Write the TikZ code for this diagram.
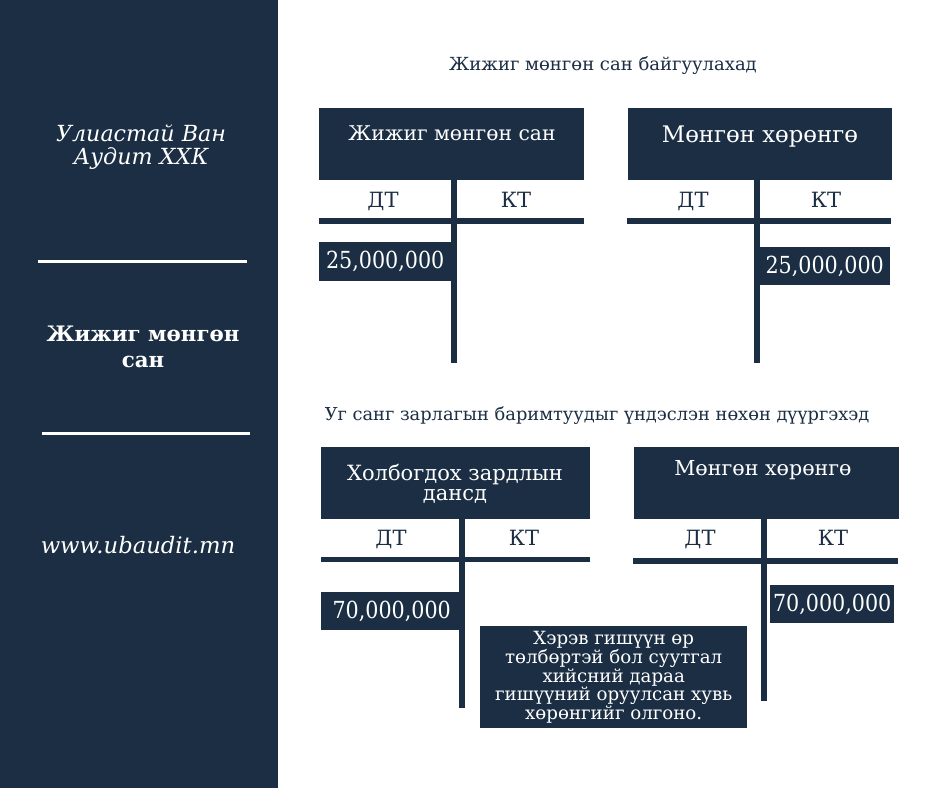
\documentclass[tikz,border=0pt]{standalone}
\usepackage{fontspec}
\setmainfont{DejaVu Serif}
\newfontfamily\numfont{DejaVu Serif}[FakeStretch=0.88]
\usetikzlibrary{positioning}
\definecolor{navy}{HTML}{1B2E44}

\tikzset{
  acchead/.style={fill=navy, minimum height=72pt, inner sep=0pt, anchor=north west},
  acctitle/.style={text=white, anchor=base, font=\fontsize{21}{20}\selectfont},
  side/.style={text=navy, anchor=base, font=\fontsize{21}{20}\selectfont},
  amount/.style={fill=navy, text=white, inner sep=0pt, anchor=north west, font=\fontsize{23.5}{23}\selectfont\numfont},
  lead/.style={text=navy, anchor=base, font=\fontsize{18}{18}\selectfont}
}

\begin{document}
\begin{tikzpicture}[x=1pt, y=-1pt, node distance=43pt]
    % background and side panel
    \fill[white] (0,0) rectangle (940,788);
    \fill[navy] (0,0) rectangle (278,788);

    \node (firm) [text=white, align=center, font=\fontsize{22.2}{23}\selectfont\itshape] at (141,147) {Улиастай Ван\\Аудит ХХК};
    \draw[white, line width=3pt] (38,261) -- (247,261);
    \node (topic) [text=white, align=center, font=\fontsize{21.3}{26}\selectfont\bfseries] at (143,347) {Жижиг мөнгөн\\сан};
    \draw[white, line width=3pt] (42,433) -- (250,433);
    \node (web) [text=white, anchor=base, font=\fontsize{22.7}{22}\selectfont\itshape] at (138,553) {www.ubaudit.mn};

    % first entry
    \node (leadA) [lead] at (603,70) {Жижиг мөнгөн сан байгуулахад};
    \node (fund) [acchead, minimum width=265pt] at (319,108) {};
    \node (cash) [acchead, minimum width=264pt, right=of fund] {};
    \fill[navy] ([xshift=132pt]fund.north west) rectangle ++(6,255);
    \fill[navy] ([yshift=-38pt]fund.south west) rectangle ++(265,6);
    \fill[navy] ([xshift=127pt]cash.north west) rectangle ++(6,255);
    \fill[navy] ([yshift=-38pt]cash.south west) rectangle ++(264,6);
    \node (fundtitle) [acctitle, font=\fontsize{20.3}{20}\selectfont] at (452,140) {Жижиг мөнгөн сан};
    \node (cashtitle) [acctitle, font=\fontsize{22.8}{20}\selectfont] at (760,142) {Мөнгөн хөрөнгө};
    \node (funddt) [side] at (383,207) {ДТ};
    \node (fundkt) [side] at (516,207) {КТ};
    \node (cashdt) [side] at (693,207) {ДТ};
    \node (cashkt) [side] at (826,207) {КТ};
    \node (fundamt) [amount, minimum width=132pt, minimum height=39pt] at (319,242) {25,000,000};
    \node (cashamt) [amount, minimum width=131pt, minimum height=38pt] at (759,247) {25,000,000};

    % second entry
    \node (leadB) [lead, font=\fontsize{17.8}{18}\selectfont] at (597,420) {Уг санг зарлагын баримтуудыг үндэслэн нөхөн дүүргэхэд};
    \node (exp) [acchead, minimum width=269pt] at (321,447) {};
    \node (cashb) [acchead, minimum width=265pt, right=of exp] {};
    \fill[navy] ([xshift=138pt]exp.north west) rectangle ++(6,261);
    \fill[navy] ([yshift=-38pt]exp.south west) rectangle ++(269,5);
    \fill[navy] ([xshift=128pt]cashb.north west) rectangle ++(6,254);
    \fill[navy] ([yshift=-39pt]cashb.south west) rectangle ++(265,6);
    \node (exptitle) [text=white, align=center, font=\fontsize{21}{20}\selectfont] at (455,484) {Холбогдох зардлын\\дансд};
    \node (cashbtitle) [acctitle, font=\fontsize{20.6}{20}\selectfont] at (763,475) {Мөнгөн хөрөнгө};
    \node (expdt) [side] at (391,545) {ДТ};
    \node (expkt) [side] at (524,545) {КТ};
    \node (cashbdt) [side] at (700,545) {ДТ};
    \node (cashbkt) [side] at (833,545) {КТ};
    \node (expamt) [amount, minimum width=141pt, minimum height=38pt] at (321,592) {70,000,000};
    \node (cashbamt) [amount, minimum width=124pt, minimum height=38pt] at (770,585) {70,000,000};
    \node (note) [amount, minimum width=267pt, minimum height=102pt, align=center, font=\fontsize{18.2}{17}\selectfont] at (480,626) {Хэрэв гишүүн өр\\төлбөртэй бол суутгал\\хийсний дараа\\гишүүний оруулсан хувь\\хөрөнгийг олгоно.};
\end{tikzpicture}
\end{document}
